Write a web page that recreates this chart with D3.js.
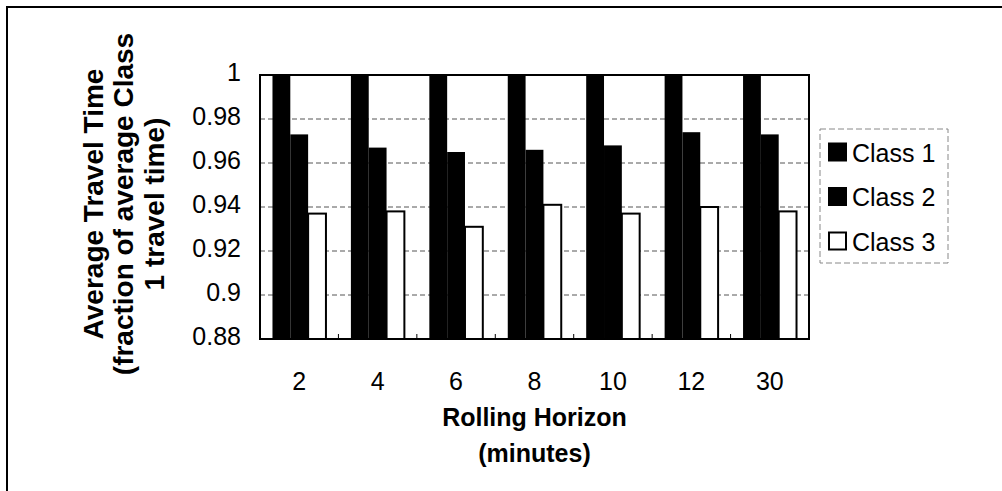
<!DOCTYPE html>
<html>
<head>
<meta charset="utf-8">
<script src="https://cdn.jsdelivr.net/npm/d3@7"></script>
<style>
  html, body { margin: 0; padding: 0; background: #fff; }
  svg { display: block; font-family: "Liberation Sans", Arial, sans-serif; }
</style>
</head>
<body>
<svg id="chart" width="1002" height="491"></svg>
<script>
// Rolling horizon lengths (minutes)
const categories = ["2", "4", "6", "8", "10", "12", "30"];
const classes = ["Class 1", "Class 2", "Class 3"];
// Average travel time as a fraction of average Class 1 travel time
const class1 = [1, 1, 1, 1, 1, 1, 1];
const class2 = [0.973, 0.967, 0.965, 0.966, 0.968, 0.974, 0.973];
const class3 = [0.937, 0.938, 0.931, 0.941, 0.937, 0.940, 0.938];
const yTicks = [0.88, 0.9, 0.92, 0.94, 0.96, 0.98, 1];
const yTickLabels = ["0.88", "0.9", "0.92", "0.94", "0.96", "0.98", "1"];

const seriesValues = [class1, class2, class3];
const fills = ["#000", "#000", "#fff"];

const svg = d3.select("#chart");

// outer frame
svg.append("path")
  .attr("d", "M7,495 L7,7 L1010,7")
  .attr("fill", "none").attr("stroke", "#000").attr("stroke-width", 2);

const plot = { left: 260, right: 809, top: 75, bottom: 339 };

const y = d3.scaleLinear().domain([0.88, 1]).range([plot.bottom, plot.top]);
const x0 = d3.scaleBand().domain(categories).range([plot.left, plot.right]).padding(0);
const x1 = d3.scaleBand().domain(classes).range([0, x0.bandwidth()]).paddingInner(0).paddingOuter(0.7);

// horizontal gridlines
svg.append("g").selectAll("line")
  .data(yTicks.filter(t => t > 0.88 && t < 1))
  .join("line")
  .attr("x1", plot.left).attr("x2", plot.right)
  .attr("y1", d => y(d)).attr("y2", d => y(d))
  .attr("stroke", "#555").attr("stroke-width", 1)
  .attr("stroke-dasharray", "5,3");

// bars
const groups = svg.append("g").selectAll("g")
  .data(categories)
  .join("g")
  .attr("transform", d => `translate(${x0(d)},0)`);

groups.selectAll("rect")
  .data((d, i) => classes.map((c, k) => ({ c, k, v: seriesValues[k][i] })))
  .join("rect")
  .attr("x", d => x1(d.c))
  .attr("width", x1.bandwidth())
  .attr("y", d => y(d.v))
  .attr("height", d => y(0.88) - y(d.v))
  .attr("fill", d => fills[d.k])
  .attr("stroke", d => d.k === 2 ? "#000" : "none")
  .attr("stroke-width", 2);

// plot border
svg.append("rect")
  .attr("x", plot.left).attr("y", plot.top)
  .attr("width", plot.right - plot.left).attr("height", plot.bottom - plot.top)
  .attr("fill", "none").attr("stroke", "#000").attr("stroke-width", 2);

// category separator ticks along the bottom axis
svg.append("g").selectAll("line")
  .data(categories.slice(1))
  .join("line")
  .attr("x1", d => x0(d)).attr("x2", d => x0(d))
  .attr("y1", plot.bottom).attr("y2", plot.bottom - 5)
  .attr("stroke", "#000").attr("stroke-width", 1);

// y tick labels
svg.append("g").selectAll("text")
  .data(yTicks)
  .join("text")
  .attr("x", 241)
  .attr("y", d => y(d) + 6)
  .attr("text-anchor", "end")
  .attr("font-size", 25)
  .text((d, i) => yTickLabels[i]);

// x tick labels
svg.append("g").selectAll("text")
  .data(categories)
  .join("text")
  .attr("x", d => x0(d) + x0.bandwidth() / 2)
  .attr("y", 390)
  .attr("text-anchor", "middle")
  .attr("font-size", 25)
  .text(d => d);

// x axis title
const xTitle = ["Rolling Horizon", "(minutes)"];
svg.append("g").selectAll("text")
  .data(xTitle)
  .join("text")
  .attr("x", (plot.left + plot.right) / 2)
  .attr("y", (d, i) => 426 + i * 36)
  .attr("text-anchor", "middle")
  .attr("font-size", 25)
  .attr("font-weight", "bold")
  .text(d => d);

// y axis title
const yTitle = ["Average Travel Time", "(fraction of average Class", "1 travel time)"];
const yTitleX = [93, 123, 154];
svg.append("g").selectAll("text")
  .data(yTitle)
  .join("text")
  .attr("transform", (d, i) => `translate(${yTitleX[i]},204) rotate(-90)`)
  .attr("dy", "0.35em")
  .attr("text-anchor", "middle")
  .attr("font-size", 28)
  .attr("font-weight", "bold")
  .text(d => d);

// legend
const legend = svg.append("g");
legend.append("rect")
  .attr("x", 820).attr("y", 129).attr("width", 128).attr("height", 134)
  .attr("fill", "none").attr("stroke", "#888").attr("stroke-width", 1)
  .attr("stroke-dasharray", "6,3");
const items = legend.selectAll("g.item")
  .data(classes)
  .join("g")
  .attr("class", "item")
  .attr("transform", (d, i) => `translate(828,${152.5 + i * 44.5})`);
items.append("rect")
  .attr("x", 1).attr("y", -9).attr("width", 17).attr("height", 17)
  .attr("fill", (d, i) => fills[i])
  .attr("stroke", "#000").attr("stroke-width", 2);
items.append("text")
  .attr("x", 24).attr("y", 9)
  .attr("font-size", 25)
  .text(d => d);
</script>
</body>
</html>
